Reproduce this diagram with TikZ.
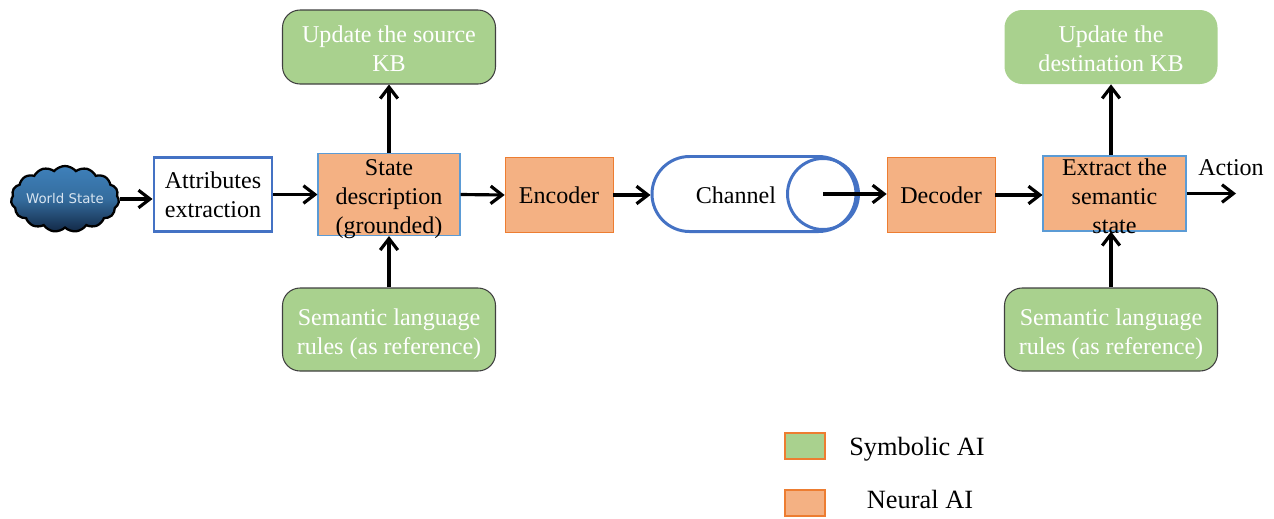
\documentclass[tikz,border=0pt]{standalone}
\usepackage{fontspec}
\setmainfont{Liberation Serif}
\setsansfont{DejaVu Sans}
\usepackage{tikz}
\usetikzlibrary{calc, arrows.meta, shapes.misc, shapes.symbols}
\tikzset{>={Straight Barb[length=6.5pt, width=10pt, line width=1.8pt]}}
\definecolor{mygreen}{RGB}{169, 209, 142}
\definecolor{myorange}{RGB}{244, 177, 131}
\definecolor{myblue}{RGB}{68, 114, 196}
\definecolor{myedge}{RGB}{237, 125, 49}
\definecolor{mylight}{RGB}{91, 155, 213}
\definecolor{mycloud}{RGB}{62, 128, 186}
\definecolor{mynavy}{RGB}{18, 40, 70}

\begin{document}
\begin{tikzpicture}[
    x = 0.02cm, y = -0.02cm,
    txt/.style = {font = \fontsize{13.7}{16.5}\selectfont, align = center, inner sep = 0pt, text = black},
    greentxt/.style = {txt, text = white},
    keytxt/.style = {txt, font = \fontsize{15}{18}\selectfont},
    box/.style = {txt, rectangle, minimum width = #1*0.02cm, inner sep = 0pt},
    greenbox/.style = {box = 213, minimum height = 74*0.02cm, fill = mygreen, rounded corners = 10pt},
    rulebox/.style = {greenbox, minimum height = 83*0.02cm, draw = black!75, line width = 0.6pt},
    neural/.style = {box = #1, minimum height = 75*0.02cm, fill = myorange, draw = myedge, line width = 0.4pt},
    grounded/.style = {box = #1, fill = myorange, draw = mylight, line width = 0.6pt},
    flow/.style = {->, line width = 1.8pt}
]
\useasboundingbox (0,0) rectangle (1274,518);

% top and bottom rows
\node[greenbox, draw = black!75, line width = 0.6pt] (updsrc) at (389, 47) {};
\node[greentxt] (updsrctxt) at (389, 49) {Update the source\\KB};
\node[greenbox] (upddst) at (1111, 47) {};
\node[greentxt] (upddsttxt) at (1111, 49) {Update the\\destination KB};
\node[rulebox] (rulesrc) at (389, 329.5) {};
\node[greentxt] (rulesrctxt) at (389, 334) {Semantic language\\rules (as reference)};
\node[rulebox] (ruledst) at (1111, 329.5) {};
\node[greentxt] (ruledsttxt) at (1111, 334) {Semantic language\\rules (as reference)};

% main row
\node[cloud, cloud puffs = 15, cloud puff arc = 100, aspect = 1.7, minimum width = 108*0.02cm, minimum height = 66*0.02cm, inner sep = 0pt, draw = black, line width = 1.3pt, top color = mycloud, bottom color = mynavy, middle color = mycloud!85!black] (world) at (65, 199) {};
\node[inner sep = 0pt, text = white!80!mycloud, font = \sffamily\fontsize{7.6}{9}\selectfont] (worldtxt) at (65, 199) {World State};
\node[box = 118, minimum height = 74*0.02cm, draw = myblue, line width = 1.7pt] (attr) at (213, 194.5) {Attributes\\extraction};
\node[grounded = 142, minimum height = 82*0.02cm] (state) at (389, 194.5) {};
\node[txt] (statetxt) at (389, 199) {State\\description\\(grounded)};
\node[neural = 108] (enc) at (559, 195) {Encoder};
\node[rounded rectangle, minimum width = 204*0.02cm, minimum height = 75*0.02cm, inner sep = 0pt, draw = myblue, line width = 1.7pt] (chan) at (754, 194) {};
\node[circle, minimum size = 71*0.02cm, inner sep = 0pt, draw = myblue, line width = 1.7pt] (chanend) at (823, 194) {};
\node[txt] (chantxt) at (736, 195) {Channel};
\node[neural = 108] (dec) at (941, 195) {Decoder};
\node[grounded = 143, minimum height = 75*0.02cm] (ext) at (1114.5, 193.5) {};
\node[txt] (exttxt) at (1114.5, 196) {Extract the\\semantic\\state};
\coordinate (actend) at (1236, 193.5);
\node[txt] (acttxt) at (1231, 168) {Action};

% connectors
\draw[flow] (world.east) -- (world.east -| attr.west);
\draw[flow] (attr.east) -- (state.west);
\draw[flow] (state.east) -- (enc.west);
\draw[flow] (enc.east) -- (enc.east -| chan.west);
\draw[flow] (chanend.center) -- (chanend.center -| dec.west);
\draw[flow] (dec.east) -- (dec.east -| ext.west);
\draw[flow] (ext.east) -- (actend);
\draw[flow] (state.north) -- (updsrc.south);
\draw[flow] (rulesrc.north) -- (state.south);
\draw[flow] (upddst.south |- ext.north) -- (upddst.south);
\draw[flow] (ruledst.north) -- (ruledst.north |- ext.south);

% legend
\node[box = 40, minimum height = 26*0.02cm, fill = mygreen, draw = myedge, line width = 0.6pt] (keysym) at (805, 446) {};
\node[box = 40, minimum height = 26*0.02cm, fill = myorange, draw = myedge, line width = 0.6pt] (keyneu) at (805, 503) {};
\node[keytxt] (symtxt) at (917, 449) {Symbolic AI};
\node[keytxt] (neutxt) at (920, 499) {Neural AI};

\end{tikzpicture}
\end{document}
